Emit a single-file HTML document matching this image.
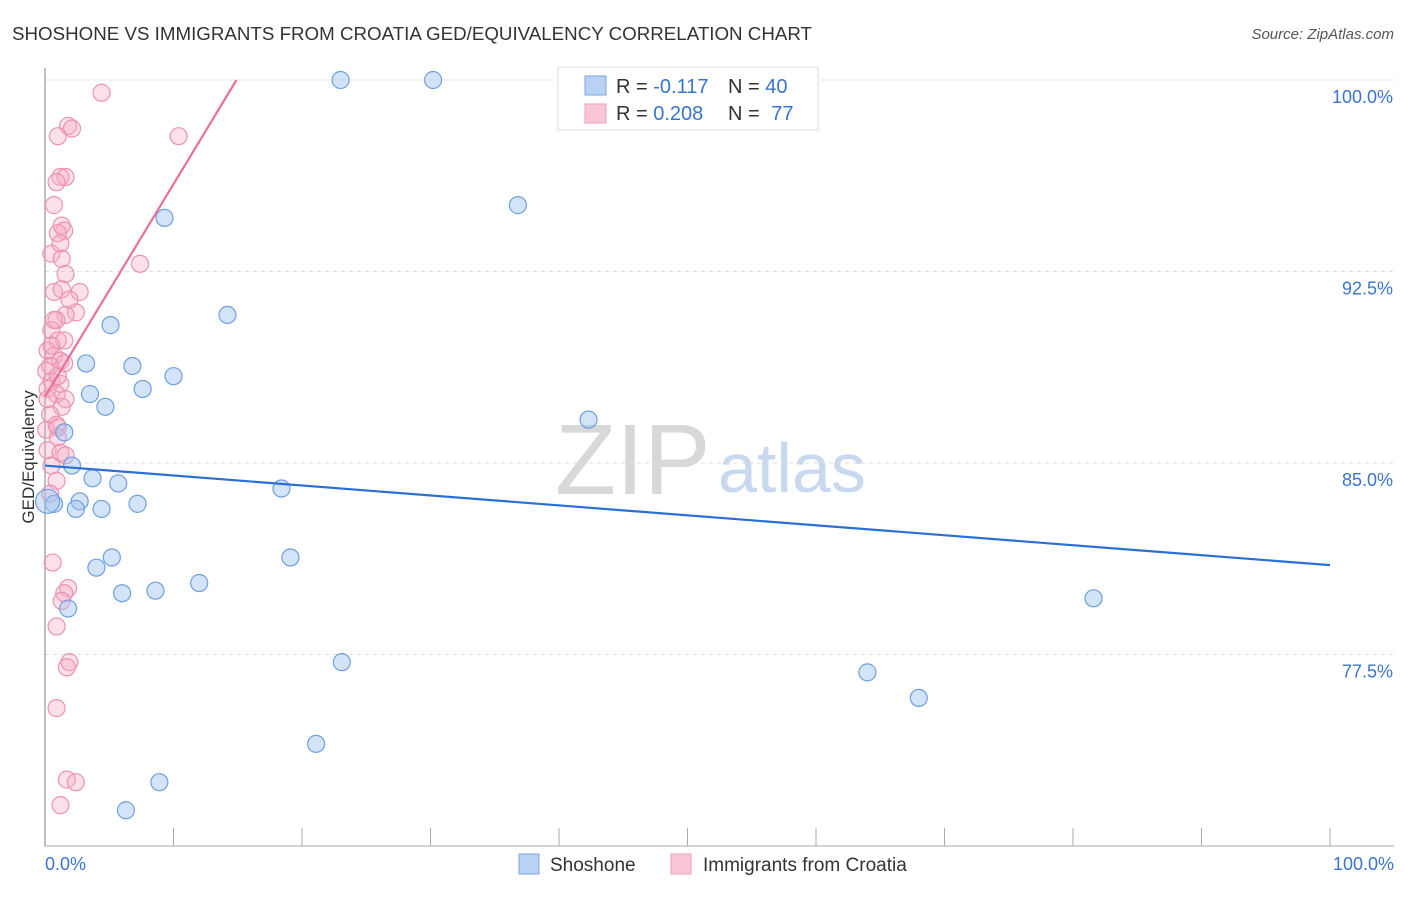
<!DOCTYPE html>
<html><head><meta charset="utf-8"><style>
body{margin:0;background:#fff;font-family:"Liberation Sans",sans-serif;}
svg text{font-family:"Liberation Sans",sans-serif;}
</style></head><body>
<svg width="1406" height="892" viewBox="0 0 1406 892">
<text x="12" y="40" font-size="18.6" fill="#333" textLength="800" lengthAdjust="spacingAndGlyphs">SHOSHONE VS IMMIGRANTS FROM CROATIA GED/EQUIVALENCY CORRELATION CHART</text>
<text x="1394" y="39" font-size="15" fill="#555" text-anchor="end" font-style="italic">Source: ZipAtlas.com</text>
<text x="555" y="494" font-size="100" fill="#d8d8d8" font-family="Liberation Serif">ZIP</text>
<text x="718" y="492" font-size="70" fill="#c8d8ee">atlas</text>
<g id="grid"></g>
<g id="axes"></g>
<g id="marks"></g>
<text transform="translate(34,457) rotate(-90)" font-size="17" fill="#333" text-anchor="middle">GED/Equivalency</text>
<text x="45" y="870" font-size="18" fill="#3a74d0">0.0%</text>
<text x="1394" y="870" font-size="18" fill="#3a74d0" text-anchor="end">100.0%</text>
<g>
<rect x="558" y="67" width="260" height="63" fill="#fff" stroke="#ddd"/>
<rect x="585" y="76" width="21" height="19" fill="#b9d1f3" stroke="#7aa5e3"/>
<rect x="585" y="104" width="21" height="19" fill="#f9c6d5" stroke="#ee9fb8"/>
<text x="616" y="93" font-size="20" fill="#333">R = <tspan fill="#3a74d0">-0.117</tspan><tspan x="728">N = </tspan><tspan fill="#3a74d0">40</tspan></text>
<text x="616" y="120" font-size="20" fill="#333">R = <tspan fill="#3a74d0">0.208</tspan><tspan x="728">N = </tspan><tspan fill="#3a74d0" dx="6">77</tspan></text>
</g>
<g>
<rect x="519" y="854" width="20" height="20" fill="#b9d1f3" stroke="#7aa5e3"/>
<text x="550" y="871" font-size="19" fill="#333">Shoshone</text>
<rect x="671" y="854" width="20" height="20" fill="#f9c6d5" stroke="#ee9fb8"/>
<text x="703" y="871" font-size="19" fill="#333">Immigrants from Croatia</text>
</g>
</svg>
<script>
const yTicks=[100,92.5,85,77.5];
const yTickLabels=["100.0%","92.5%","85.0%","77.5%"];
const xTicks=[0,10,20,30,40,50,60,70,80,90,100];
const blueX=[23.0,30.2,9.3,36.8,14.2,5.1,3.2,6.8,10.0,7.6,3.5,4.7,42.3,1.5,2.1,3.7,5.7,18.4,0.7,2.7,2.4,4.4,7.2,5.2,19.1,4.0,12.0,6.0,8.6,1.8,81.6,23.1,64.0,68.0,21.1,8.9,6.3,0.2];
const blueY=[100,100,94.6,95.1,90.8,90.4,88.9,88.8,88.4,87.9,87.7,87.2,86.7,86.2,84.9,84.4,84.2,84.0,83.4,83.5,83.2,83.2,83.4,81.3,81.3,80.9,80.3,79.9,80.0,79.3,79.7,77.2,76.8,75.8,74.0,72.5,71.4,83.5];
const pinkX=[4.4,1.8,2.1,1.0,10.4,1.2,1.6,0.9,0.7,1.3,1.5,1.0,0.5,1.2,1.3,1.6,0.7,1.3,2.7,2.4,1.6,0.9,0.5,1.0,1.5,0.2,0.7,1.2,0.4,1.5,0.1,0.5,1.2,0.2,0.9,1.6,1.3,0.4,0.9,0.1,1.0,0.2,1.2,0.5,0.9,0.4,7.4,0.6,1.8,1.5,1.3,0.9,1.9,1.7,0.9,1.7,2.4,1.2,0.7,1.0,0.2,0.5,1.9,1.6,1.0];
const pinkY=[99.5,98.2,98.1,97.8,97.8,96.2,96.2,96.0,95.1,94.3,94.1,94.0,93.2,93.6,93.0,92.4,91.7,91.8,91.7,90.9,90.8,90.6,90.2,89.8,89.8,89.4,89.2,89.0,88.8,88.9,88.6,88.2,88.1,87.9,87.7,87.5,87.2,86.9,86.5,86.3,86.0,85.5,85.4,84.9,84.3,83.8,92.8,81.1,80.1,79.9,79.6,78.6,77.2,77.0,75.4,72.6,72.5,71.6,90.6,86.4,87.5,89.6,91.4,85.3,88.4];
const blueTrend=[84.9,81.0];
const pinkTrend=[87.6,100];
const X0=45,X1=1330,Y0=80,Y1=846,YMIN=70,YMAX=100;
const sx=v=>X0+(v/100)*(X1-X0);
const sy=v=>Y0+(YMAX-v)/(YMAX-YMIN)*(Y1-Y0);
const NS="http://www.w3.org/2000/svg";
function mk(tag,attrs,parent){const e=document.createElementNS(NS,tag);for(const k in attrs)e.setAttribute(k,attrs[k]);parent.appendChild(e);return e;}
const grid=document.getElementById('grid'),axes=document.getElementById('axes'),marks=document.getElementById('marks');
yTicks.forEach((t,i)=>{
 const l=mk('line',{x1:X0,x2:1394,y1:sy(t),y2:sy(t),stroke:'#ddd','stroke-dasharray':'4,4'},grid);
 
 
 const tx=mk('text',{x:1393,y:sy(t)+23,'font-size':18,fill:'#3a74d0','text-anchor':'end'},grid);
 tx.textContent=yTickLabels[i];
 
 
});
const ya=mk('line',{x1:X0,x2:X0,y1:68,y2:846,stroke:'#aaa','stroke-width':1.5},axes);


const xa=mk('line',{x1:X0,x2:1394,y1:846,y2:846,stroke:'#aaa','stroke-width':1},axes);


xTicks.forEach(t=>{
 const l=mk('line',{x1:sx(t),x2:sx(t),y1:828,y2:846,stroke:'#aaa'},axes);
 
 
});
pinkX.forEach((v,i)=>{
 const c=mk('circle',{cx:sx(v),cy:sy(pinkY[i]),r:8.5,fill:'rgba(246,170,196,0.35)',stroke:'#ec92b1','stroke-width':1.2},marks);
 
 
});
blueX.forEach((v,i)=>{
 const c=mk('circle',{cx:sx(v),cy:sy(blueY[i]),r:i===blueX.length-1?12:8.5,fill:'rgba(160,195,240,0.45)',stroke:'#6e9fe2','stroke-width':1.2},marks);
 
 
});
const bl=mk('line',{x1:sx(0),y1:sy(blueTrend[0]),x2:sx(100),y2:sy(blueTrend[1]),stroke:'#2a6fd6','stroke-width':2.2},marks);


const slope=(pinkTrend[1]-pinkTrend[0])/14.9;
const xe=(100-pinkTrend[0])/slope;
const pl=mk('line',{x1:sx(0),y1:sy(pinkTrend[0]),x2:sx(xe),y2:sy(100),stroke:'#e8709a','stroke-width':2.2},marks);


</script>
</body></html>
